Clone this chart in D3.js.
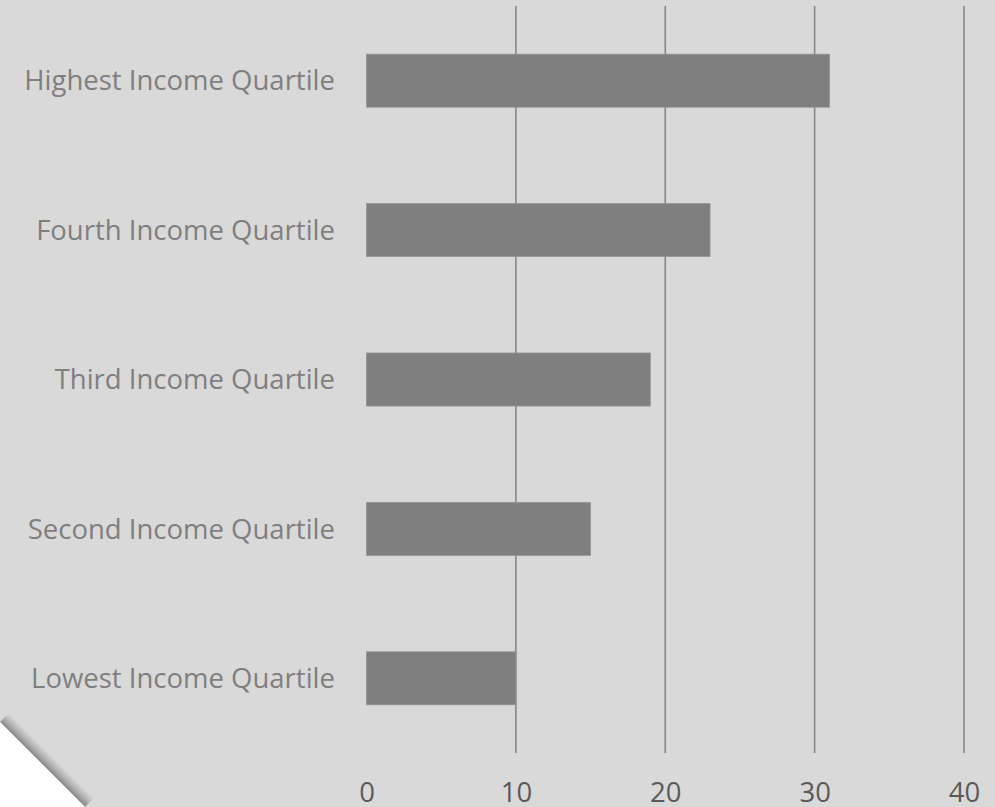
<!DOCTYPE html>
<html>
<head>
<meta charset="utf-8">
<script src="https://cdn.jsdelivr.net/npm/d3@7/dist/d3.min.js"></script>
<style>
  html, body { margin: 0; padding: 0; background: #ffffff; }
  svg { display: block; }
</style>
</head>
<body>
<svg id="chart" width="995" height="807"></svg>
<script>
// Share by income quartile (horizontal bars, top to bottom)
const categories = [
  "Highest Income Quartile",
  "Fourth Income Quartile",
  "Third Income Quartile",
  "Second Income Quartile",
  "Lowest Income Quartile"
];
const values = [31, 23, 19, 15, 10];
const tickValues = [0, 10, 20, 30, 40];

const W = 995, H = 807;
const svg = d3.select("#chart");
const fontFamily = "'Open Sans', 'DejaVu Sans', sans-serif";
const fontSize = 27.5;

// Page background
svg.append("rect").attr("width", W).attr("height", H).attr("fill", "#d9d9d9");

const x = d3.scaleLinear().domain([0, 40]).range([366.5, 964]);
const y = d3.scaleBand().domain(categories).range([6, 753])
  .paddingInner(0.645).paddingOuter(0.3225);

// Vertical gridlines (behind bars)
svg.append("g").selectAll("line")
  .data(tickValues.filter(d => d > 0))
  .join("line")
  .attr("x1", d => x(d)).attr("x2", d => x(d))
  .attr("y1", 6).attr("y2", 753)
  .attr("stroke", "#878787").attr("stroke-width", 1.6);

// Bars
svg.append("g").selectAll("rect")
  .data(categories)
  .join("rect")
  .attr("x", x(0))
  .attr("y", d => y(d))
  .attr("width", (d, i) => x(values[i]) - x(0))
  .attr("height", y.bandwidth())
  .attr("fill", "#7f7f7f")
  .attr("stroke", "#959595").attr("stroke-width", 0.8);

// Category labels
svg.append("g").selectAll("text")
  .data(categories)
  .join("text")
  .attr("x", 335)
  .attr("y", d => y(d) + y.bandwidth() / 2)
  .attr("dy", "0.35em")
  .attr("text-anchor", "end")
  .attr("font-family", fontFamily)
  .attr("font-size", fontSize)
  .attr("fill", "#7f7f7f")
  .text(d => d);

// Value axis labels
const axis = d3.axisBottom(x).tickValues(tickValues).tickSize(0).tickPadding(0);
const gAxis = svg.append("g").attr("transform", "translate(0,782)").call(axis);
gAxis.select(".domain").remove();
gAxis.selectAll("text")
  .attr("dy", 0).attr("y", 20)
  .attr("font-family", fontFamily)
  .attr("font-size", fontSize)
  .attr("fill", "#595959");

// Folded corner at the bottom left
const defs = svg.append("defs");
const edgeA = [0, 722], edgeB = [85, 807];
const nx = Math.SQRT1_2, ny = -Math.SQRT1_2, shadowW = 13;
const grad = defs.append("linearGradient").attr("id", "curlShadow")
  .attr("gradientUnits", "userSpaceOnUse")
  .attr("x1", edgeA[0]).attr("y1", edgeA[1])
  .attr("x2", edgeA[0] + nx * shadowW).attr("y2", edgeA[1] + ny * shadowW);
grad.append("stop").attr("offset", 0).attr("stop-color", "#858585").attr("stop-opacity", 1);
grad.append("stop").attr("offset", 0.3).attr("stop-color", "#a3a3a3").attr("stop-opacity", 1);
grad.append("stop").attr("offset", 0.7).attr("stop-color", "#c6c6c6").attr("stop-opacity", 1);
grad.append("stop").attr("offset", 1).attr("stop-color", "#d9d9d9").attr("stop-opacity", 1);

svg.append("polygon")
  .attr("points", [
    edgeA, edgeB,
    [edgeB[0] + nx * shadowW, edgeB[1] + ny * shadowW],
    [edgeA[0] + nx * shadowW, edgeA[1] + ny * shadowW]
  ].map(p => p.join(",")).join(" "))
  .attr("fill", "url(#curlShadow)");

svg.append("polygon")
  .attr("points", [edgeA, edgeB, [0, H]].map(p => p.join(",")).join(" "))
  .attr("fill", "#ffffff");
</script>
</body>
</html>
